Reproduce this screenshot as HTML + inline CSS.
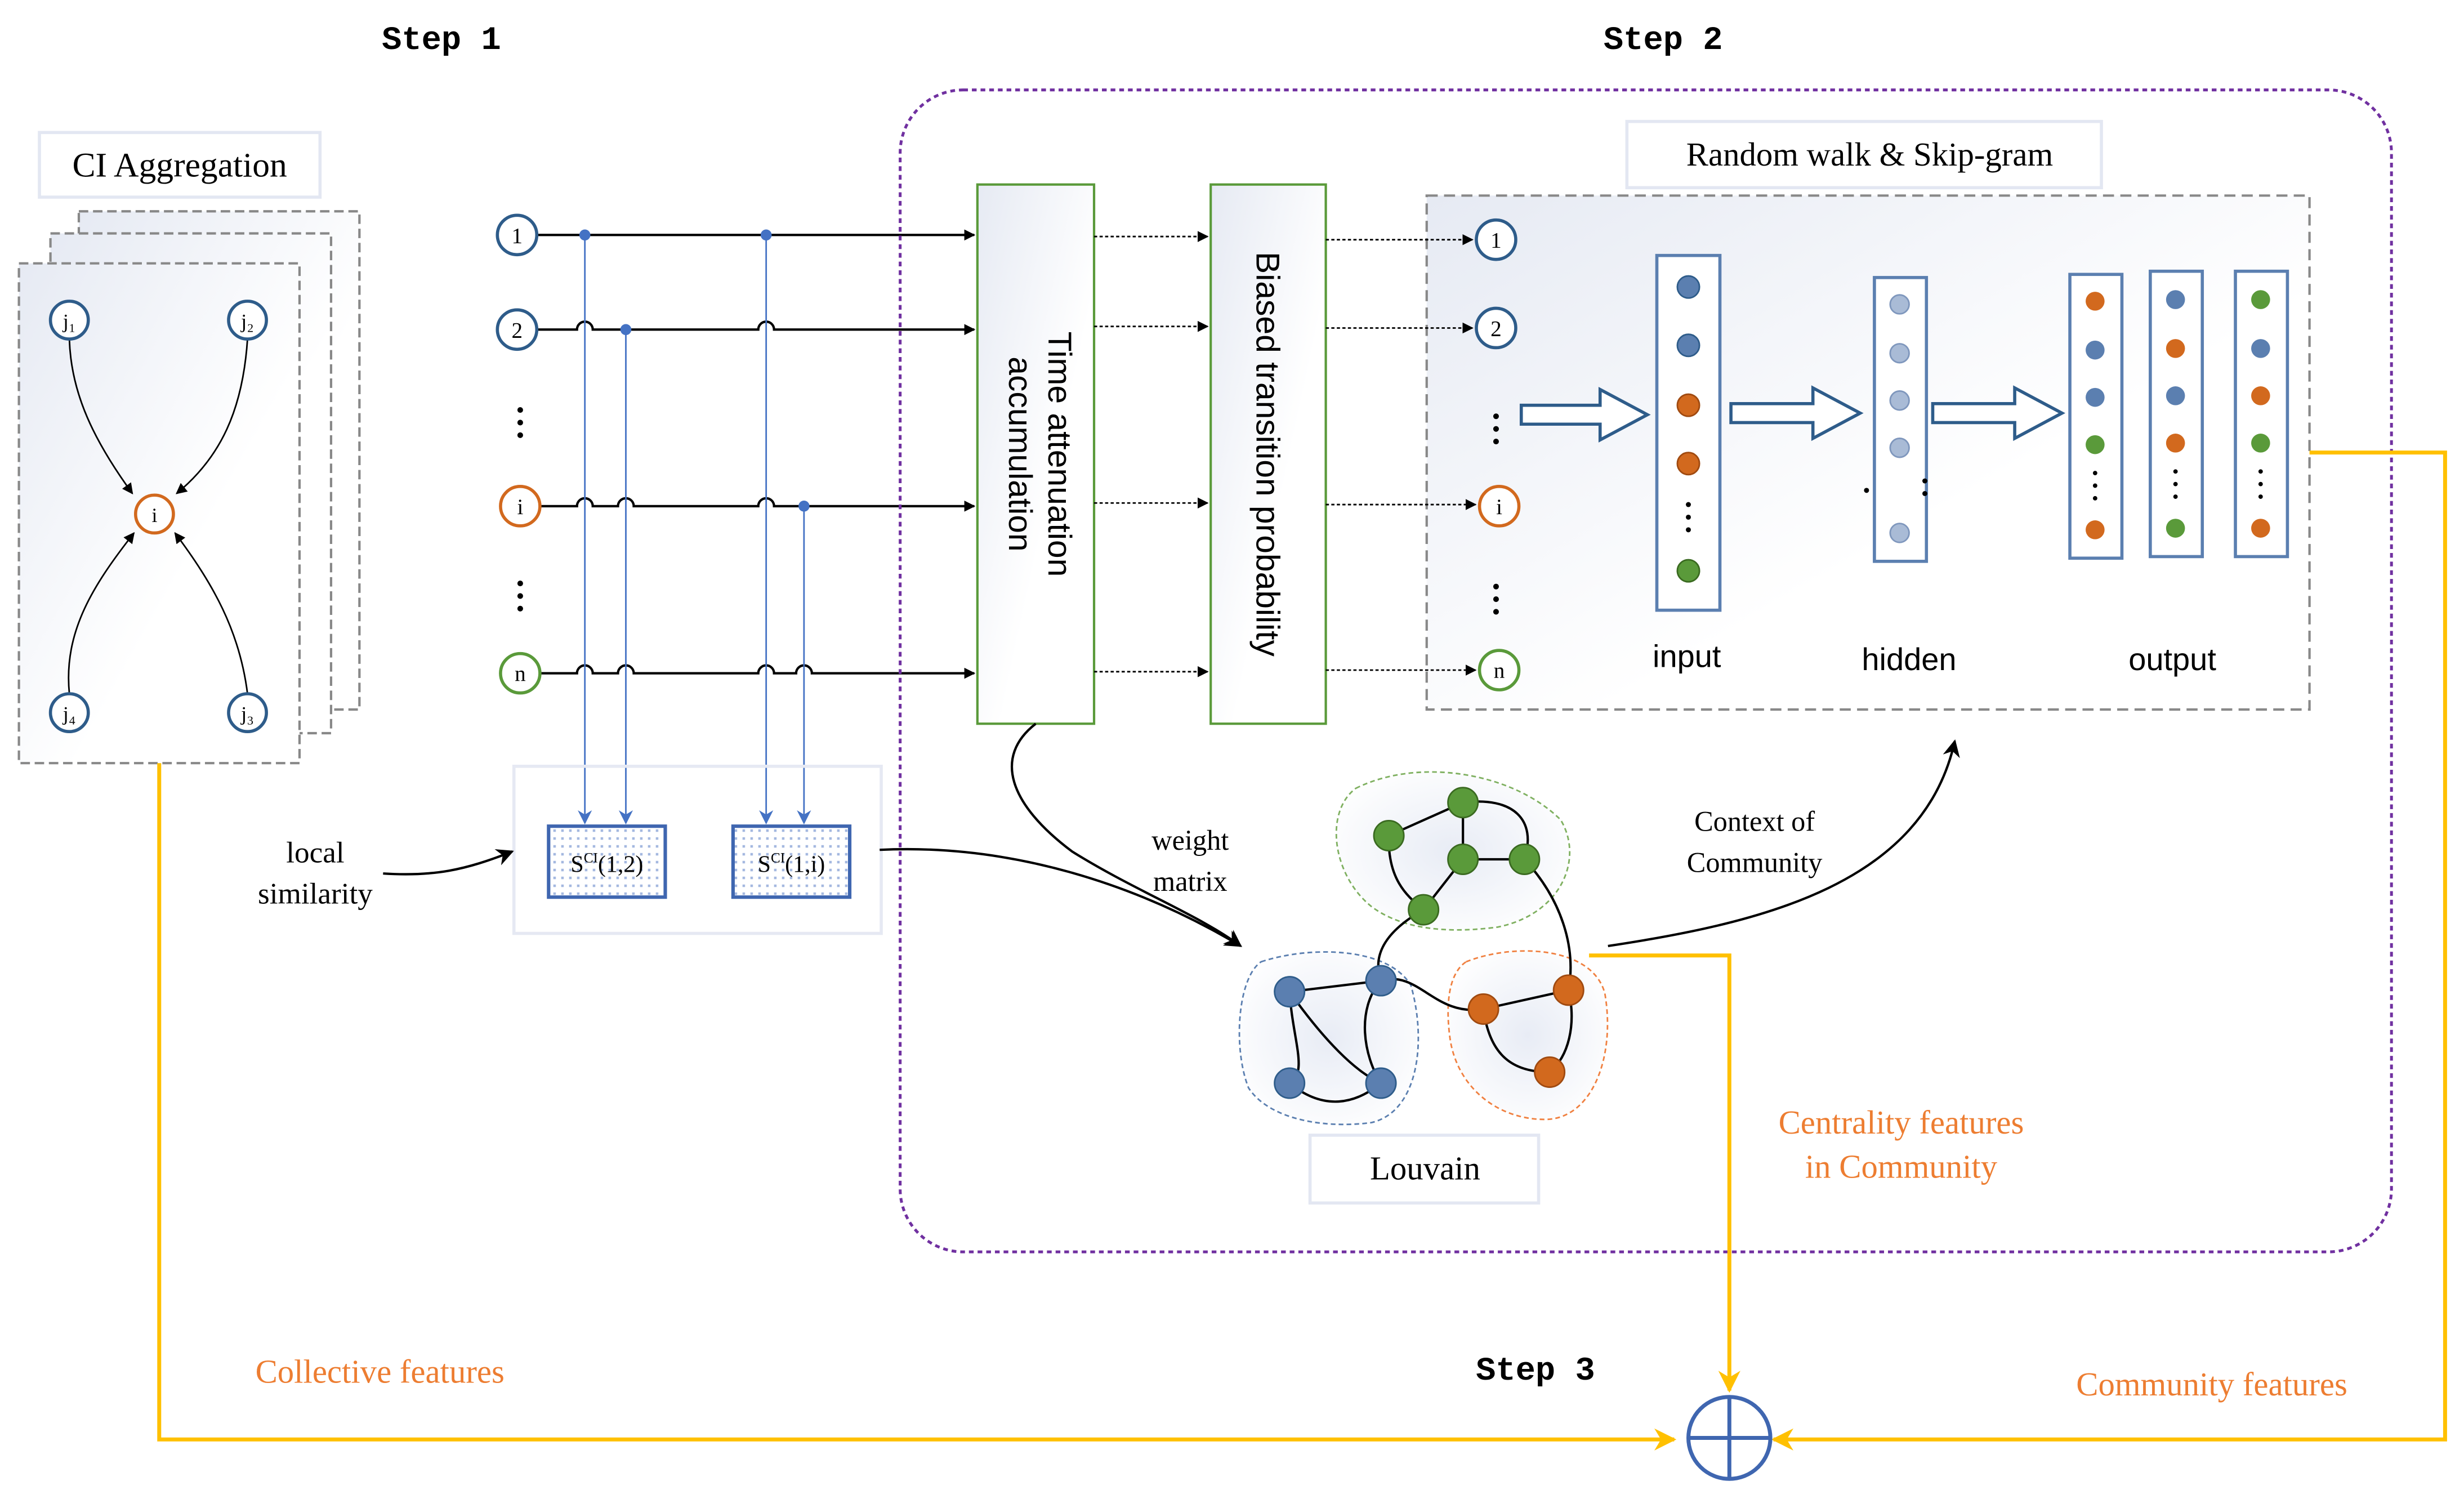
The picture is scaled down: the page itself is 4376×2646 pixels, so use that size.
<!DOCTYPE html>
<html><head><meta charset="utf-8"><style>
html,body{margin:0;padding:0;background:#fff;}
svg{display:block}
.s{font-family:"Liberation Serif",serif;}
.m{font-family:"Liberation Mono",monospace;font-weight:bold;}
.a{font-family:"Liberation Sans",sans-serif;}
</style></head><body>
<svg width="4376" height="2646" viewBox="0 0 1563 945" xmlns="http://www.w3.org/2000/svg">
<defs>
<marker id="ab" viewBox="0 0 10 10" refX="9" refY="5" markerWidth="7" markerHeight="7" orient="auto" markerUnits="userSpaceOnUse"><path d="M0,0L10,5L0,10z" fill="#000"/></marker>
<marker id="abl" viewBox="0 0 10 10" refX="9" refY="5" markerWidth="11" markerHeight="11" orient="auto" markerUnits="userSpaceOnUse"><path d="M0,0L10,5L0,10L3,5z" fill="#000"/></marker>
<marker id="au" viewBox="0 0 10 10" refX="9" refY="5" markerWidth="9" markerHeight="9" orient="auto" markerUnits="userSpaceOnUse"><path d="M0,0L10,5L0,10L3,5z" fill="#4472c4"/></marker>
<marker id="ay" viewBox="0 0 10 10" refX="9" refY="5" markerWidth="14" markerHeight="14" orient="auto" markerUnits="userSpaceOnUse"><path d="M0,0L10,5L0,10L3,5z" fill="#ffc000"/></marker>
<linearGradient id="g1" x1="0" y1="0" x2="0.6" y2="0.6"><stop offset="0" stop-color="#e6eaf3"/><stop offset="1" stop-color="#fff"/></linearGradient>
<radialGradient id="gn" cx="0.5" cy="0.5" r="0.6"><stop offset="0" stop-color="#e8ecf5"/><stop offset="1" stop-color="#fff"/></radialGradient>
<pattern id="dots" width="5" height="5" patternUnits="userSpaceOnUse"><rect width="5" height="5" fill="#fff"/><rect x="1" y="1" width="1.6" height="1.6" fill="#a4b8e0"/></pattern>
</defs>

<text x="280" y="31" class="m" font-size="21" text-anchor="middle">Step 1</text>
<text x="1055" y="31" class="m" font-size="21" text-anchor="middle">Step 2</text>
<text x="974" y="875" class="m" font-size="21" text-anchor="middle">Step 3</text>

<rect x="25" y="84" width="178" height="41" fill="#fff" stroke="#e3e7f2" stroke-width="2"/>
<text x="114" y="112" class="s" font-size="22" text-anchor="middle">CI Aggregation</text>
<rect x="50" y="134" width="178" height="316" fill="url(#g1)" stroke="#888" stroke-width="1.5" stroke-dasharray="6,3"/>
<rect x="32" y="148" width="178" height="317" fill="url(#g1)" stroke="#888" stroke-width="1.5" stroke-dasharray="6,3"/>
<rect x="12" y="167" width="178" height="317" fill="url(#g1)" stroke="#888" stroke-width="1.5" stroke-dasharray="6,3"/>
<g fill="none" stroke="#000" stroke-width="1">
<path d="M44,215 C45,250 60,280 84,313" marker-end="url(#ab)"/>
<path d="M157,215 C154,260 140,290 112,313" marker-end="url(#ab)"/>
<path d="M44,440 C40,400 60,370 85,338" marker-end="url(#ab)"/>
<path d="M157,440 C152,400 135,370 111,338" marker-end="url(#ab)"/>
</g>
<g fill="#fff" stroke-width="2">
<circle cx="44" cy="203" r="12" stroke="#2e5c8a"/><circle cx="157" cy="203" r="12" stroke="#2e5c8a"/>
<circle cx="98" cy="326" r="12" stroke="#d2691e"/>
<circle cx="44" cy="452" r="12" stroke="#2e5c8a"/><circle cx="157" cy="452" r="12" stroke="#2e5c8a"/>
</g>
<g class="s" font-size="13" text-anchor="middle">
<text x="44" y="208">j₁</text><text x="157" y="208">j₂</text><text x="98" y="331">i</text><text x="44" y="457">j₄</text><text x="157" y="457">j₃</text>
</g>

<g fill="none" stroke="#000" stroke-width="1.5">
<path d="M341,149H618" marker-end="url(#ab)"/>
<path d="M341,209H366a5,5 0 0 1 10,0H481a5,5 0 0 1 10,0H618" marker-end="url(#ab)"/>
<path d="M343,321H366a5,5 0 0 1 10,0H392a5,5 0 0 1 10,0H481a5,5 0 0 1 10,0H618" marker-end="url(#ab)"/>
<path d="M343,427H366a5,5 0 0 1 10,0H392a5,5 0 0 1 10,0H481a5,5 0 0 1 10,0H505a5,5 0 0 1 10,0H618" marker-end="url(#ab)"/>
</g>
<g fill="#fff" stroke-width="2">
<circle cx="328" cy="149" r="12.5" stroke="#2e5c8a"/><circle cx="328" cy="209" r="12.5" stroke="#2e5c8a"/>
<circle cx="330" cy="321" r="12.5" stroke="#d2691e"/><circle cx="330" cy="427" r="12.5" stroke="#5a9a3a"/>
</g>
<g class="s" font-size="14" text-anchor="middle">
<text x="328" y="154">1</text><text x="328" y="214">2</text><text x="330" y="326">i</text><text x="330" y="432">n</text>
</g>
<g fill="#000"><circle cx="330" cy="260" r="1.8"/><circle cx="330" cy="268" r="1.8"/><circle cx="330" cy="276" r="1.8"/>
<circle cx="330" cy="370" r="1.8"/><circle cx="330" cy="378" r="1.8"/><circle cx="330" cy="386" r="1.8"/></g>
<g stroke="#4472c4" stroke-width="1" fill="none">
<path d="M371,149V522" marker-end="url(#au)"/><path d="M397,209V522" marker-end="url(#au)"/>
<path d="M486,149V522" marker-end="url(#au)"/><path d="M510,321V522" marker-end="url(#au)"/>
</g>
<g fill="#4472c4"><circle cx="371" cy="149" r="3.5"/><circle cx="486" cy="149" r="3.5"/><circle cx="397" cy="209" r="3.5"/><circle cx="510" cy="321" r="3.5"/></g>

<rect x="326" y="486" width="233" height="106" fill="none" stroke="#e6e9f3" stroke-width="2"/>
<rect x="348" y="524" width="74" height="45" fill="url(#dots)" stroke="#3f66b0" stroke-width="2.2"/>
<rect x="465" y="524" width="74" height="45" fill="url(#dots)" stroke="#3f66b0" stroke-width="2.2"/>
<text x="385" y="553" class="s" font-size="15" text-anchor="middle">S<tspan font-size="9" dy="-6">CI</tspan><tspan dy="6">(1,2)</tspan></text>
<text x="502" y="553" class="s" font-size="15" text-anchor="middle">S<tspan font-size="9" dy="-6">CI</tspan><tspan dy="6">(1,i)</tspan></text>
<text x="200" y="547" class="s" font-size="19" text-anchor="middle">local</text>
<text x="200" y="573" class="s" font-size="19" text-anchor="middle">similarity</text>
<path d="M243,554 C275,556 295,552 325,540" fill="none" stroke="#000" stroke-width="1.5" marker-end="url(#abl)"/>

<rect x="571" y="57" width="946" height="737" rx="40" fill="none" stroke="#7030a0" stroke-width="1.8" stroke-dasharray="3,2.5"/>

<rect x="620" y="117" width="74" height="342" fill="url(#g1)" stroke="#5a9a3a" stroke-width="1.5"/>
<text transform="translate(665,288) rotate(90)" class="a" font-size="21" text-anchor="middle">Time  attenuation</text>
<text transform="translate(640,288) rotate(90)" class="a" font-size="21" text-anchor="middle">accumulation</text>
<rect x="768" y="117" width="73" height="342" fill="url(#g1)" stroke="#5a9a3a" stroke-width="1.5"/>
<text transform="translate(797,288) rotate(90)" class="a" font-size="21" text-anchor="middle">Biased transition probability</text>

<rect x="905" y="124" width="560" height="326" fill="url(#g1)" stroke="#888" stroke-width="1.5" stroke-dasharray="7,4"/>
<g fill="none" stroke="#000" stroke-width="1" stroke-dasharray="2,1.5">
<path d="M694,150H766" marker-end="url(#ab)"/><path d="M694,207H766" marker-end="url(#ab)"/>
<path d="M694,319H766" marker-end="url(#ab)"/><path d="M694,426H766" marker-end="url(#ab)"/>
<path d="M841,152H934" marker-end="url(#ab)"/><path d="M841,208H934" marker-end="url(#ab)"/>
<path d="M841,320H936" marker-end="url(#ab)"/><path d="M841,425H936" marker-end="url(#ab)"/>
</g>
<rect x="1032" y="77" width="301" height="42" fill="#fff" stroke="#e3e7f2" stroke-width="2"/>
<text x="1186" y="105" class="s" font-size="21" text-anchor="middle">Random walk &amp; Skip-gram</text>
<g fill="#fff" stroke-width="2">
<circle cx="949" cy="152" r="12.5" stroke="#2e5c8a"/><circle cx="949" cy="208" r="12.5" stroke="#2e5c8a"/>
<circle cx="951" cy="321" r="12.5" stroke="#d2691e"/><circle cx="951" cy="425" r="12.5" stroke="#5a9a3a"/>
</g>
<g class="s" font-size="14" text-anchor="middle">
<text x="949" y="157">1</text><text x="949" y="213">2</text><text x="951" y="326">i</text><text x="951" y="430">n</text>
</g>
<g fill="#000"><circle cx="949" cy="264" r="1.8"/><circle cx="949" cy="272" r="1.8"/><circle cx="949" cy="280" r="1.8"/>
<circle cx="949" cy="372" r="1.8"/><circle cx="949" cy="380" r="1.8"/><circle cx="949" cy="388" r="1.8"/></g>
<g fill="#fff" stroke="#2e5c8a" stroke-width="2">
<path d="M965,257H1015V247L1045,263L1015,279V269H965Z"/>
<path d="M1098,256H1150V246L1180,262L1150,278V268H1098Z"/>
<path d="M1226,256H1278V246L1308,262L1278,278V268H1226Z"/>
</g>
<g fill="#fff" stroke="#5b7fb0" stroke-width="2">
<rect x="1051" y="162" width="40" height="225"/>
<rect x="1189" y="176" width="33" height="180"/>
<rect x="1313" y="174" width="33" height="180"/>
<rect x="1364" y="172" width="33" height="181"/>
<rect x="1418" y="172" width="33" height="181"/>
</g>
<g stroke-width="1">
<circle cx="1071" cy="182" r="7" fill="#5b7fb0" stroke="#2e5c8a"/><circle cx="1071" cy="219" r="7" fill="#5b7fb0" stroke="#2e5c8a"/>
<circle cx="1071" cy="257" r="7" fill="#d2691e" stroke="#a04a10"/><circle cx="1071" cy="294" r="7" fill="#d2691e" stroke="#a04a10"/>
<circle cx="1071" cy="362" r="7" fill="#5a9a3a" stroke="#3a6a20"/>
<circle cx="1205" cy="193" r="6" fill="#a9bbd6" stroke="#7f97bd"/><circle cx="1205" cy="224" r="6" fill="#a9bbd6" stroke="#7f97bd"/>
<circle cx="1205" cy="254" r="6" fill="#a9bbd6" stroke="#7f97bd"/><circle cx="1205" cy="284" r="6" fill="#a9bbd6" stroke="#7f97bd"/>
<circle cx="1205" cy="338" r="6" fill="#a9bbd6" stroke="#7f97bd"/>
</g>
<g>
<circle cx="1329" cy="191" r="6" fill="#d2691e"/><circle cx="1329" cy="222" r="6" fill="#5b7fb0"/><circle cx="1329" cy="252" r="6" fill="#5b7fb0"/><circle cx="1329" cy="282" r="6" fill="#5a9a3a"/><circle cx="1329" cy="336" r="6" fill="#d2691e"/>
<circle cx="1380" cy="190" r="6" fill="#5b7fb0"/><circle cx="1380" cy="221" r="6" fill="#d2691e"/><circle cx="1380" cy="251" r="6" fill="#5b7fb0"/><circle cx="1380" cy="281" r="6" fill="#d2691e"/><circle cx="1380" cy="335" r="6" fill="#5a9a3a"/>
<circle cx="1434" cy="190" r="6" fill="#5a9a3a"/><circle cx="1434" cy="221" r="6" fill="#5b7fb0"/><circle cx="1434" cy="251" r="6" fill="#d2691e"/><circle cx="1434" cy="281" r="6" fill="#5a9a3a"/><circle cx="1434" cy="335" r="6" fill="#d2691e"/>
</g>
<g fill="#000">
<circle cx="1071" cy="320" r="1.6"/><circle cx="1071" cy="328" r="1.6"/><circle cx="1071" cy="336" r="1.6"/>
<circle cx="1184" cy="311" r="1.6"/><circle cx="1221" cy="305" r="1.6"/><circle cx="1221" cy="313" r="1.6"/>
<circle cx="1329" cy="300" r="1.4"/><circle cx="1329" cy="308" r="1.4"/><circle cx="1329" cy="316" r="1.4"/>
<circle cx="1380" cy="299" r="1.4"/><circle cx="1380" cy="307" r="1.4"/><circle cx="1380" cy="315" r="1.4"/>
<circle cx="1434" cy="299" r="1.4"/><circle cx="1434" cy="307" r="1.4"/><circle cx="1434" cy="315" r="1.4"/>
</g>
<text x="1070" y="423" class="a" font-size="20" text-anchor="middle">input</text>
<text x="1211" y="425" class="a" font-size="20" text-anchor="middle">hidden</text>
<text x="1378" y="425" class="a" font-size="20" text-anchor="middle">output</text>

<path d="M860,500 C900,480 960,490 990,520 C1005,545 990,580 950,588 C920,592 890,590 870,575 C845,555 840,515 860,500Z" fill="url(#gn)" stroke="#7fb060" stroke-width="1" stroke-dasharray="3,2"/>
<path d="M800,610 C830,600 880,600 895,625 C905,660 900,705 870,712 C840,716 805,710 792,690 C782,665 785,620 800,610Z" fill="url(#gn)" stroke="#5b7fb0" stroke-width="1" stroke-dasharray="3,2"/>
<path d="M930,610 C960,598 1010,600 1018,630 C1025,670 1010,710 980,710 C950,710 925,690 920,660 C917,640 918,618 930,610Z" fill="url(#gn)" stroke="#f08040" stroke-width="1" stroke-dasharray="3,2"/>
<g fill="none" stroke="#000" stroke-width="1.5">
<path d="M928,509L881,530"/><path d="M928,509L928,545"/><path d="M928,509 C960,505 975,520 967,545"/>
<path d="M881,530 C880,560 895,570 903,577"/><path d="M928,545L967,545"/><path d="M928,545L903,577"/>
<path d="M967,545 C990,570 1000,600 995,628"/>
<path d="M903,577 C880,590 870,605 876,622"/>
<path d="M818,629L876,622"/><path d="M818,629 C820,660 830,680 818,687"/><path d="M876,622 C860,640 865,670 876,687"/>
<path d="M818,687 C840,705 860,700 876,687"/><path d="M818,629 C840,660 860,680 876,687"/>
<path d="M876,622 C900,615 910,645 941,640"/><path d="M941,640L995,628"/><path d="M941,640 C945,670 960,680 983,680"/><path d="M995,628 C1000,650 995,670 983,680"/>
</g>
<g stroke-width="1">
<circle cx="928" cy="509" r="9.5" fill="#5a9a3a" stroke="#3a6a20"/><circle cx="881" cy="530" r="9.5" fill="#5a9a3a" stroke="#3a6a20"/>
<circle cx="928" cy="545" r="9.5" fill="#5a9a3a" stroke="#3a6a20"/><circle cx="967" cy="545" r="9.5" fill="#5a9a3a" stroke="#3a6a20"/>
<circle cx="903" cy="577" r="9.5" fill="#5a9a3a" stroke="#3a6a20"/>
<circle cx="818" cy="629" r="9.5" fill="#5b7fb0" stroke="#2e5c8a"/><circle cx="876" cy="622" r="9.5" fill="#5b7fb0" stroke="#2e5c8a"/>
<circle cx="818" cy="687" r="9.5" fill="#5b7fb0" stroke="#2e5c8a"/><circle cx="876" cy="687" r="9.5" fill="#5b7fb0" stroke="#2e5c8a"/>
<circle cx="941" cy="640" r="9.5" fill="#d2691e" stroke="#a04a10"/><circle cx="995" cy="628" r="9.5" fill="#d2691e" stroke="#a04a10"/>
<circle cx="983" cy="680" r="9.5" fill="#d2691e" stroke="#a04a10"/>
</g>
<rect x="831" y="720" width="145" height="43" fill="#fff" stroke="#e3e7f2" stroke-width="2"/>
<text x="904" y="748" class="s" font-size="21" text-anchor="middle">Louvain</text>

<text x="755" y="539" class="s" font-size="18" text-anchor="middle">weight</text>
<text x="755" y="565" class="s" font-size="18" text-anchor="middle">matrix</text>
<path d="M657,459 C630,480 640,510 680,540 C720,565 760,580 787,600" fill="none" stroke="#000" stroke-width="1.5" marker-end="url(#abl)"/>
<path d="M558,539 C640,535 720,560 787,600" fill="none" stroke="#000" stroke-width="1.5" marker-end="url(#abl)"/>
<text x="1113" y="527" class="s" font-size="18" text-anchor="middle">Context of</text>
<text x="1113" y="553" class="s" font-size="18" text-anchor="middle">Community</text>
<path d="M1020,600 C1120,585 1220,560 1240,470" fill="none" stroke="#000" stroke-width="1.5" marker-end="url(#abl)"/>

<g fill="none" stroke="#ffc000" stroke-width="2.5">
<path d="M101,484V913H1062" marker-end="url(#ay)"/>
<path d="M1008,606H1097V882" marker-end="url(#ay)"/>
<path d="M1465,287H1551V913H1125" marker-end="url(#ay)"/>
</g>
<text x="1206" y="719" class="s" font-size="21" fill="#ed7d31" text-anchor="middle">Centrality features</text>
<text x="1206" y="747" class="s" font-size="21" fill="#ed7d31" text-anchor="middle">in Community</text>
<text x="241" y="877" class="s" font-size="21" fill="#ed7d31" text-anchor="middle">Collective features</text>
<text x="1403" y="885" class="s" font-size="21" fill="#ed7d31" text-anchor="middle">Community features</text>
<circle cx="1097" cy="912" r="26" fill="#fff" stroke="#3f66b0" stroke-width="2.5"/>
<path d="M1071,912H1123M1097,886V938" stroke="#3f66b0" stroke-width="2.5"/>
</svg>
</body></html>
